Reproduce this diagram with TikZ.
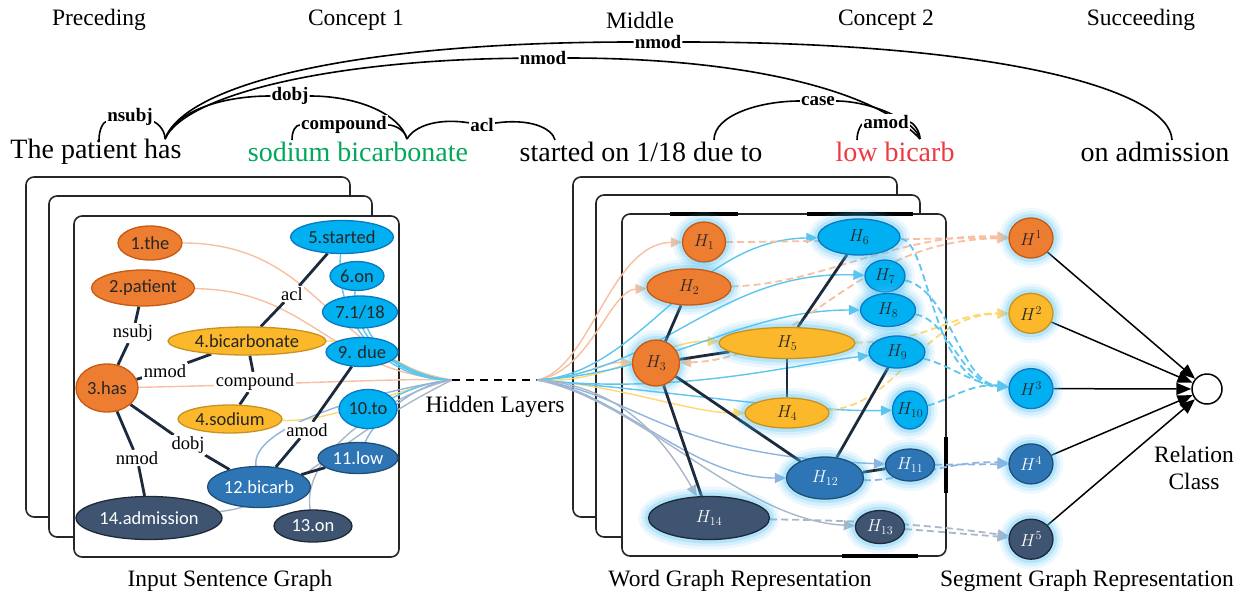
\documentclass[tikz,border=0pt]{standalone}
\usepackage{fontspec}
\setmainfont{Liberation Serif}
\newfontfamily\nodefont{Carlito}
\usepackage{xcolor}
\usepackage{tikz}
\usetikzlibrary{arrows.meta,positioning,shapes.geometric,calc}

\definecolor{cOrn}{HTML}{ED7D31}
\definecolor{cOrnD}{HTML}{C55A11}
\definecolor{cGld}{HTML}{FAB82A}
\definecolor{cGldD}{HTML}{C9921E}
\definecolor{cSky}{HTML}{00B0F0}
\definecolor{cSkyD}{HTML}{0A78C2}
\definecolor{cBlu}{HTML}{2E75B6}
\definecolor{cBluD}{HTML}{1F4E79}
\definecolor{cSlt}{HTML}{3E5470}
\definecolor{cSltD}{HTML}{1F2A38}
\definecolor{cNavy}{HTML}{1B2A3C}
\definecolor{cGlow}{HTML}{4FC3F7}
\definecolor{lPeach}{HTML}{F8C0A0}
\definecolor{lGold}{HTML}{FFD875}
\definecolor{lSky}{HTML}{5CC6EE}
\definecolor{lSteel}{HTML}{8FB4E0}
\definecolor{lSlate}{HTML}{A9B7C8}
\definecolor{cGreen}{HTML}{00A859}
\definecolor{cRed}{HTML}{EE3A3F}

\pgfdeclarelayer{panels}
\pgfdeclarelayer{links}
\pgfsetlayers{panels,links,main}

\begin{document}
\begin{tikzpicture}[
  x=1pt, y=-1pt,
  font=\fontsize{23.5}{27}\selectfont,
  >={Triangle[length=11pt,width=10pt]},
  sz/.style 2 args={minimum width=#1pt, minimum height=#2pt},
  word/.style={inner sep=0pt, font=\fontsize{28}{30}\selectfont},
  albl/.style={fill=white, inner sep=1pt, font=\bfseries\fontsize{19}{20}\selectfont},
  elbl/.style={fill=white, inner sep=1.5pt, font=\fontsize{18.5}{20}\selectfont},
  panel/.style={draw=black!85, line width=1.6pt, rounded corners=8pt, fill=white},
  wn/.style={ellipse, draw, line width=1.3pt, inner sep=0pt, text=black!85,
    font=\nodefont\fontsize{18.5}{20}\selectfont},
  orn/.style={wn, fill=cOrn, draw=cOrnD},
  gld/.style={wn, fill=cGld, draw=cGldD},
  sky/.style={wn, fill=cSky, draw=cSkyD},
  blu/.style={wn, fill=cBlu, draw=cBluD, text=white},
  slt/.style={wn, fill=cSlt, draw=cSltD, text=white},
  glow/.style={preaction={draw=cGlow, line width=20pt, opacity=0.1},
    preaction={draw=cGlow, line width=14pt, opacity=0.15},
    preaction={draw=cGlow, line width=8pt, opacity=0.25}},
  hn/.style={glow, font=\fontsize{18}{20}\selectfont},
  arc/.style={line width=1.6pt},
  dep/.style={draw=cNavy, line width=2.8pt},
  link/.style={line width=1.4pt},
  dlink/.style={line width=1.8pt, dash pattern=on 7pt off 4pt, ->},
]
\useasboundingbox (0,0) rectangle (1244,597);

% headers and sentence
\node (hPre) at (99,20) {Preceding};
\node (hCon1) at (356,20) {Concept 1};
\node (hMid) at (640,20) {Middle};
\node (hCon2) at (886,20) {Concept 2};
\node (hSuc) at (1141,20) {Succeeding};

\node[word] (w1) at (96,152) {The patient has};
\node[word, text=cGreen] (w2) at (358,152) {sodium bicarbonate};
\node[word] (w3) at (641,152) {started on 1/18 due to};
\node[word, text=cRed] (w4) at (895,152) {low bicarb};
\node[word] (w5) at (1155,152) {on admission};

\coordinate (fPat) at (99,140);
\coordinate (fHas) at (165,139);
\coordinate (fSod) at (292,140);
\coordinate (fBic) at (407,139);
\coordinate (fSta) at (555,140);
\coordinate (fDue) at (714,140);
\coordinate (fLow) at (857,140);
\coordinate (fBib) at (920,139);
\coordinate (fAdm) at (1172,140);

\node[albl] (lNsubj) at (130,117) {nsubj};
\node[albl] (lDobj) at (290,96) {dobj};
\node[albl] (lComp) at (344,125) {compound};
\node[albl] (lAcl) at (482,125) {acl};
\node[albl] (lNmA) at (543,58) {nmod};
\node[albl] (lNmB) at (658,42) {nmod};
\node[albl] (lCase) at (818,101) {case};
\node[albl] (lAmod) at (886,122) {amod};

% input sentence graph
\begin{pgfonlayer}{panels}
\draw[panel] (26,177) rectangle (350,517);
\draw[panel] (49,196) rectangle (372,537);
\draw[panel] (74,216) rectangle (399,557);
\draw[panel] (573,177) rectangle (897,517);
\draw[panel] (596,195) rectangle (920,537);
\draw[panel] (622,214) rectangle (946,556);
\draw[line width=3.5pt] (670,214) -- (738,214) (807,214) -- (913,214)
  (842,556) -- (918,556) (946,437) -- (946,493);
\end{pgfonlayer}

\node[orn, sz={64}{34}] (the) at (150,243) {1.the};
\node[orn, sz={103}{36}] (patient) at (143,288) {2.patient};
\node[orn, sz={62}{48}] (has) at (107,388) {3.has};
\node[gld, sz={158}{28}] (bicarbonate) at (247,341) {4.bicarbonate};
\node[gld, sz={104}{28}] (sodium) at (230,419) {4.sodium};
\node[sky, sz={103}{33}] (started) at (342,237) {5.started};
\node[sky, sz={54}{29}] (on6) at (357,276) {6.on};
\node[sky, sz={75}{32}] (date) at (360,312) {7.1/18};
\node[sky, sz={72}{29}] (due) at (362,352) {9. due};
\node[sky, sz={58}{39}] (to10) at (368,409) {10.to};
\node[blu, sz={80}{31}] (low) at (358,458) {11.low};
\node[blu, sz={103}{41}] (bicarb) at (259,487) {12.bicarb};
\node[slt, sz={78}{32}] (on13) at (313,526) {13.on};
\node[slt, sz={146}{43}] (admission) at (149,518) {14.admission};

\node[elbl] (lacl) at (292,294) {acl};
\node[elbl] (lnsubj) at (133,333) {nsubj};
\node[elbl] (lnmodA) at (165,371) {nmod};
\node[elbl] (lcomp) at (255,382) {compound};
\node[elbl] (ldobj) at (188,445) {dobj};
\node[elbl] (lnmodB) at (137,458) {nmod};
\node[elbl] (lamod) at (307,430) {amod};

\coordinate (hubL) at (452,380);
\coordinate (hubR) at (537,380);
\node (hidden) at (495,407) {Hidden Layers};

% word graph
\node[orn, hn, sz={43}{40}] (h1) at (704,242) {$H_{1}$};
\node[orn, hn, sz={84}{36}] (h2) at (689,287) {$H_{2}$};
\node[orn, hn, sz={47}{46}] (h3) at (656,363) {$H_{3}$};
\node[gld, hn, sz={84}{30}] (h4) at (787,413) {$H_{4}$};
\node[gld, hn, sz={136}{31}] (h5) at (787,343) {$H_{5}$};
\node[sky, hn, sz={82}{36}] (h6) at (859,237) {$H_{6}$};
\node[sky, hn, sz={40}{32}] (h7) at (885,276) {$H_{7}$};
\node[sky, hn, sz={55}{33}] (h8) at (888,310) {$H_{8}$};
\node[sky, hn, sz={56}{32}] (h9) at (897,352) {$H_{9}$};
\node[sky, hn, sz={35}{38}, inner xsep=-3pt] (h10) at (910,410) {$H_{10}$};
\node[blu, hn, sz={49}{32}] (h11) at (910,465) {$H_{11}$};
\node[blu, hn, sz={77}{42}] (h12) at (825,478) {$H_{12}$};
\node[slt, hn, sz={49}{33}] (h13) at (880,527) {$H_{13}$};
\node[slt, hn, sz={121}{43}] (h14) at (709,518) {$H_{14}$};

% segment graph
\node[orn, hn, sz={44}{40}] (s1) at (1031,238) {$H^{1}$};
\node[gld, hn, sz={44}{40}, below=34pt of s1] (s2) {$H^{2}$};
\node[sky, hn, sz={44}{40}, below=34pt of s2] (s3) {$H^{3}$};
\node[blu, hn, sz={44}{40}, below=34pt of s3] (s4) {$H^{4}$};
\node[slt, hn, sz={44}{40}, below=34pt of s4] (s5) {$H^{5}$};
\node[circle, draw, line width=1.5pt, minimum size=30pt, inner sep=0pt] (rel) at (1207,389) {};
\node[align=center] (relTxt) at (1194,468) {Relation\\Class};

\node (capIn) at (230,581) {Input Sentence Graph};
\node (capWord) at (740,581) {Word Graph Representation};
\node (capSeg) at (1087,581) {Segment Graph Representation};

\begin{pgfonlayer}{links}
\draw[arc] (fPat) .. controls (99,128) and (104,122) .. (lNsubj);
\draw[arc] (lNsubj) .. controls (155,122) and (165,128) .. (fHas);
\draw[arc] (fHas) .. controls (175,112) and (220,96) .. (lDobj);
\draw[arc] (lDobj) .. controls (360,96) and (400,115) .. (fBic);
\draw[arc] (fSod) .. controls (292,130) and (296,125) .. (lComp);
\draw[arc] (lComp) .. controls (395,125) and (405,130) .. (fBic);
\draw[arc] (fBic) .. controls (415,125) and (440,118) .. (lAcl);
\draw[arc] (lAcl) .. controls (530,118) and (552,128) .. (fSta);
\draw[arc] (fHas) .. controls (185,95) and (330,60) .. (lNmA);
\draw[arc] (lNmA) .. controls (760,58) and (880,95) .. (fBib);
\draw[arc] (fHas) .. controls (185,85) and (350,42) .. (lNmB);
\draw[arc] (lNmB) .. controls (1000,42) and (1170,90) .. (fAdm);
\draw[arc] (fDue) .. controls (714,115) and (760,101) .. (lCase);
\draw[arc] (lCase) .. controls (870,101) and (915,120) .. (fBib);
\draw[arc] (fLow) .. controls (857,130) and (862,124) .. (lAmod);
\draw[arc] (lAmod) .. controls (912,122) and (920,130) .. (fBib);

\draw[link, lPeach] (the) .. controls (320,243) and (330,360) .. (hubL);
\draw[link, lPeach] (patient) .. controls (310,290) and (330,372) .. (hubL);
\draw[link, lPeach] (has) .. controls (300,384) and (400,378) .. (hubL);
\draw[link, lGold] (bicarbonate) .. controls (390,341) and (400,376) .. (hubL);
\draw[link, lGold] (sodium) .. controls (340,422) and (400,385) .. (hubL);
\draw[link, lSky] (started) .. controls (335,320) and (380,380) .. (hubL);
\draw[link, lSky] (on6) .. controls (350,330) and (390,378) .. (hubL);
\draw[link, lSky] (date) .. controls (375,345) and (400,378) .. (hubL);
\draw[link, lSky] (due) .. controls (400,362) and (420,378) .. (hubL);
\draw[link, lSky] (to10) .. controls (405,392) and (425,382) .. (hubL);
\draw[link, lSteel] (low) .. controls (375,420) and (410,385) .. (hubL);
\draw[link, lSteel] (bicarb) .. controls (250,425) and (380,390) .. (hubL);
\draw[link, lSlate] (on13) .. controls (300,450) and (400,390) .. (hubL);
\draw[link, lSlate] (admission) .. controls (290,505) and (330,440) .. (hubL);
\draw[line width=2pt, dash pattern=on 8pt off 6pt] (hubL) -- (hubR);

\draw[link, lPeach, ->] (hubR) .. controls (590,370) and (610,243) .. (h1);
\draw[link, lPeach, ->] (hubR) .. controls (590,372) and (610,290) .. (h2);
\draw[link, lPeach, ->] (hubR) .. controls (585,378) and (600,362) .. (h3);
\draw[link, lGold, ->] (hubR) .. controls (610,385) and (660,340) .. (h5);
\draw[link, lGold, ->] (hubR) .. controls (620,385) and (690,413) .. (h4);
\draw[link, lSky, ->] (hubR) .. controls (640,375) and (690,240) .. (h6);
\draw[link, lSky, ->] (hubR) .. controls (660,372) and (720,270) .. (h7);
\draw[link, lSky, ->] (hubR) .. controls (670,372) and (740,310) .. (h8);
\draw[link, lSky, ->] (hubR) .. controls (680,395) and (790,365) .. (h9);
\draw[link, lSky, ->] (hubR) .. controls (680,392) and (800,412) .. (h10);
\draw[link, lSteel, ->] (hubR) .. controls (620,392) and (690,478) .. (h12);
\draw[link, lSteel, ->] (hubR) .. controls (640,395) and (660,455) .. (h11);
\draw[link, lSlate, ->] (hubR) .. controls (620,385) and (665,440) .. (h14);
\draw[link, lSlate, ->] (hubR) .. controls (640,400) and (740,520) .. (h13);

\draw[dlink, lPeach] (h1) .. controls (800,242) and (930,238) .. (s1);
\draw[dlink, lPeach] (h2) .. controls (820,285) and (900,232) .. (s1);
\draw[dlink, lPeach, <->] (h3) .. controls (800,360) and (850,240) .. (s1);
\draw[dlink, lGold] (h5) .. controls (930,342) and (950,313) .. (s2);
\draw[dlink, lGold] (h4) .. controls (900,405) and (920,315) .. (s2);
\draw[dlink, lSky] (h6) .. controls (930,240) and (930,383) .. (s3);
\draw[dlink, lSky] (h7) .. controls (950,290) and (960,383) .. (s3);
\draw[dlink, lSky] (h8) .. controls (950,320) and (960,383) .. (s3);
\draw[dlink, lSky] (h9) .. controls (950,365) and (970,383) .. (s3);
\draw[dlink, lSky] (h10) .. controls (950,400) and (970,383) .. (s3);
\draw[dlink, lSteel] (h11) -- (s4);
\draw[dlink, lSteel] (h12) .. controls (900,482) and (950,460) .. (s4);
\draw[dlink, lSlate] (h13) -- (s5);
\draw[dlink, lSlate] (h14) .. controls (800,520) and (900,520) .. (s5);

\draw[dep] (patient) -- (lnsubj) -- (has);
\draw[dep] (started) -- (lacl) -- (bicarbonate);
\draw[dep] (bicarbonate) -- (lnmodA) -- (has);
\draw[dep] (bicarbonate) -- (lcomp) -- (sodium);
\draw[dep] (has) -- (ldobj) -- (bicarb);
\draw[dep] (has) -- (lnmodB) -- (admission);
\draw[dep] (due) -- (lamod) -- (bicarb);
\draw[dep] (bicarb) -- (low);

\draw[dep] (h2) -- (h3);
\draw[dep] (h3) -- (h5);
\draw[dep] (h5) -- (h6);
\draw[dep] (h5) -- (h4);
\draw[dep] (h9) -- (h12);
\draw[dep] (h3) -- (h12);
\draw[dep] (h3) -- (h14);
\draw[dep] (h12) -- (h11);

\foreach \s in {s1,s2,s3,s4,s5}
  \draw[line width=1.5pt, ->, >={Triangle[length=15pt,width=12pt]}] (\s) -- (rel);
\end{pgfonlayer}
\end{tikzpicture}
\end{document}
